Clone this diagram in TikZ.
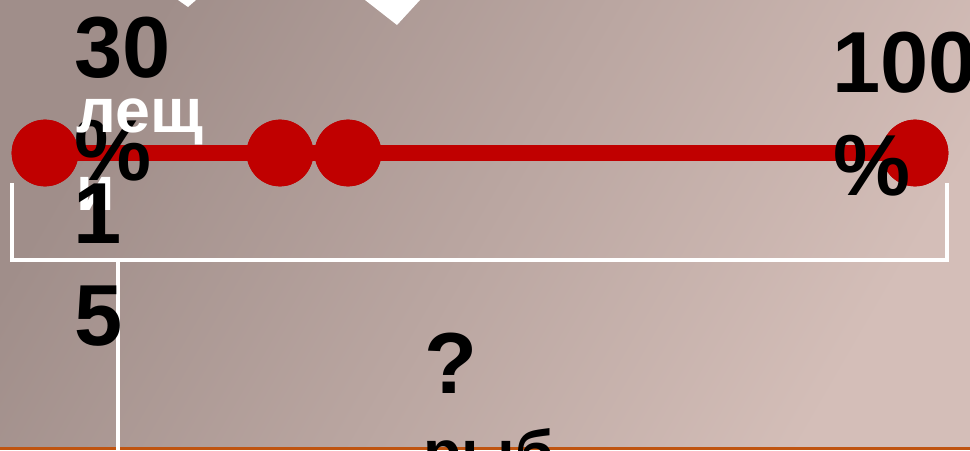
\documentclass[tikz,border=0pt]{standalone}
\usepackage{fontspec}
\setmainfont{Liberation Sans}
\definecolor{dotred}{RGB}{192,0,0}
\definecolor{barorange}{RGB}{192,84,16}
\definecolor{bgdark}{RGB}{160,142,138}
\definecolor{bglight}{RGB}{212,190,184}
\begin{document}
\begin{tikzpicture}[x=0.75pt,y=-0.75pt,
  dot/.style={circle,fill=dotred,draw=none,minimum size=50pt,inner sep=0pt},
  redline/.style={draw=dotred,line width=12pt},
  bracket/.style={draw=white,line width=3pt},
  bignum/.style={font=\bfseries\fontsize{65}{77}\selectfont,text=black,anchor=base west,inner sep=0pt},
  smallword/.style={font=\bfseries\fontsize{47}{57}\selectfont,anchor=base west,inner sep=0pt},
  whiteword/.style={smallword,text=white},
  wedge/.style={fill=white,draw=none}]
\useasboundingbox (0,0) rectangle (970,450);
% background
\shade[left color=bgdark,right color=bglight,shading angle=60] (0,0) rectangle (970,447);
\fill[barorange] (0,447) rectangle (970,450);
% white wedges at the top edge
\fill[wedge] (178,0) -- (188,7) -- (196,0) -- cycle;
\fill[wedge] (365,0) -- (397,25) -- (420,0) -- cycle;
% red dots and line
\node[dot] (d1) at (45,153) {};
\node[dot] (d2) at (280,153) {};
\node[dot] (d3) at (348,153) {};
\node[dot] (d4) at (915,153) {};
\draw[redline] (d1.center) -- (d4.center);
\node[dot] at (d1) {};
\node[dot] at (d2) {};
\node[dot] at (d3) {};
\node[dot] at (d4) {};
% bracket
\coordinate (bl) at (12,183);
\coordinate (blc) at (12,260);
\coordinate (brc) at (947,260);
\coordinate (br) at (947,183);
\coordinate (stemtop) at (118,260);
\coordinate (stembot) at (118,450);
\draw[bracket] (bl) -- (blc) -- (brc) -- (br);
\draw[bracket] (stemtop) -- (stembot);
% texts
\node[bignum] (t30) at (74,77) {30};
\node[bignum] (tp1) at (74,180) {\%};
\node[whiteword] (tl) at (76,132) {лещ};
\node[whiteword] (ti) at (76,210) {и};
\node[bignum] (t1) at (73,243) {1};
\node[bignum] (t5) at (74,345) {5};
\node[bignum] (t100) at (832,92) {100};
\node[bignum] (tp2) at (833,195) {\%};
\node[bignum] (tq) at (424,393) {?};
\node[smallword,text=black] (tr) at (423,474) {рыб};
\end{tikzpicture}
\end{document}
